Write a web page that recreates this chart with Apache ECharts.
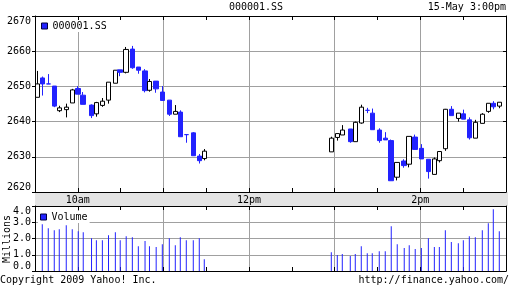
<!DOCTYPE html>
<html><head><meta charset="utf-8">
<script src="https://cdn.jsdelivr.net/npm/echarts@6/dist/echarts.min.js"></script>
<style>html,body{margin:0;padding:0;background:#fff}#c{width:512px;height:288px}</style>
</head><body><div id="c"></div>
<script>
// time of each bar, in minutes after midnight (570 = 9:30, 900 = 15:00)
const times = [571.6,575.1,579.3,583.5,587.0,591.9,596.1,600.3,603.8,609.6,613.0,617.2,621.5,626.3,629.7,633.9,638.2,642.4,647.1,650.2,654.9,659.2,664.1,668.3,671.8,676.0,680.9,685.1,688.6,
  777.6,781.8,785.3,790.9,794.4,798.6,802.8,806.3,811.2,815.4,819.6,823.8,828.7,832.2,836.4,840.7,845.6,849.8,853.3,857.5,861.7,866.6,870.1,874.3,878.5,883.4,887.6,891.1,895.3];
const opens = [2646.9,2652.4,2650.7,2650.1,2643.1,2643.4,2645.3,2649.4,2647.5,2644.7,2642.2,2644.6,2646.1,2650.9,2654.7,2654.0,2660.6,2655.5,2654.4,2648.9,2651.5,2648.4,2646.1,2642.1,2642.7,2636.3,2636.8,2630.2,2629.5,
  2631.4,2635.5,2636.2,2637.9,2634.3,2639.6,2643.2,2642.4,2637.6,2635.3,2634.6,2624.2,2628.8,2627.9,2635.6,2632.4,2629.3,2625.0,2628.9,2632.3,2643.5,2640.9,2642.2,2640.5,2635.3,2639.5,2642.9,2645.2,2644.4];
const closes = [2650.7,2650.7,2650.7,2644.4,2643.9,2644.1,2649.0,2647.8,2644.9,2641.7,2645.4,2645.8,2651.2,2654.6,2654.0,2660.5,2655.3,2654.6,2648.8,2651.4,2649.3,2646.0,2642.1,2642.9,2635.7,2636.3,2630.3,2628.9,2631.6,
  2635.3,2636.6,2637.6,2634.3,2639.8,2644.1,2643.2,2637.7,2634.6,2634.8,2623.2,2628.4,2627.5,2635.8,2632.1,2629.4,2625.8,2629.4,2631.5,2643.5,2641.7,2642.4,2640.7,2635.4,2639.8,2642.1,2645.2,2644.2,2645.5];
const lows = [2646.9,2647.4,2650.7,2644.1,2642.7,2641.2,2645.3,2647.8,2644.9,2641.0,2641.4,2644.2,2645.1,2650.9,2652.9,2653.7,2655.0,2653.6,2648.3,2648.5,2648.2,2646.0,2641.6,2642.1,2635.7,2634.0,2630.3,2628.1,2629.0,
  2631.4,2634.6,2636.2,2634.0,2634.3,2639.4,2642.4,2637.7,2634.0,2634.8,2623.2,2623.3,2626.9,2627.0,2632.1,2629.4,2623.8,2625.0,2628.4,2631.7,2641.7,2640.0,2640.7,2634.9,2635.3,2639.5,2642.5,2643.5,2643.8];
const highs = [2654.4,2652.8,2653.5,2650.1,2644.5,2645.1,2649.3,2650.1,2648.4,2644.9,2645.6,2646.7,2651.2,2654.6,2654.7,2661.2,2661.5,2655.5,2654.9,2652.1,2651.5,2650.1,2646.1,2644.7,2643.2,2636.3,2637.0,2630.8,2632.2,
  2635.7,2636.6,2639.0,2637.9,2640.0,2644.8,2643.9,2643.7,2638.1,2637.0,2634.9,2628.4,2629.3,2635.8,2636.3,2633.6,2629.3,2629.8,2631.5,2643.6,2644.4,2642.4,2643.4,2641.2,2640.5,2642.4,2645.2,2645.8,2645.5];
// volume in millions
const volumes = [null,2.88,2.63,2.51,2.57,2.82,2.57,2.45,2.39,2.02,1.90,1.90,2.20,2.39,1.90,2.14,2.08,1.53,1.84,1.53,1.47,1.65,2.02,1.59,2.08,1.90,1.90,2.02,0.73,
  1.16,0.98,1.04,0.92,1.04,1.53,1.10,1.10,1.22,1.22,2.76,1.65,1.41,1.59,1.35,1.41,2.02,1.47,1.47,2.51,1.78,1.71,1.90,2.14,2.08,2.51,2.94,3.80,2.45];
const timeTickLabels = {600:'10am', 720:'12pm', 840:'2pm'};
const priceRange = [2620, 2670];
const volumeRange = [0, 4];

const FONT = '"DejaVu Sans Mono", monospace';
const BLUE = '#2222ff';
const GRID = '#a0a0a0';
const txt = {fontFamily: FONT, fontSize: 10, color: '#000'};

const ohlc = times.map((t, i) => [t, opens[i], closes[i], lows[i], highs[i]]);
const vol = times.map((t, i) => [t, volumes[i]]);

function xAx(grid, pos, labels, split) {
  return {
    type: 'value', gridIndex: grid, position: pos, min: 570, max: 900, interval: 30,
    axisLine: {show: true, onZero: false, lineStyle: {color: '#000', width: 1}},
    axisTick: {show: true, inside: true, length: 4, lineStyle: {color: '#000'}},
    axisLabel: labels ? {show: true, margin: 3, formatter: v => timeTickLabels[v] || '', ...txt} : {show: false},
    splitLine: split ? {show: true, lineStyle: {color: ['rgba(0,0,0,0)', GRID], width: 1}} : {show: false}
  };
}

const chart = echarts.init(document.getElementById('c'), null, {renderer: 'canvas'});
chart.setOption({
  animation: false,
  backgroundColor: '#fff',
  title: [
    {text: '000001.SS', left: 'center', top: 2, padding: 0, textStyle: {...txt, fontWeight: 'normal'}},
    {text: '15-May 3:00pm', right: 6, top: 2, padding: 0, textStyle: {...txt, fontWeight: 'normal'}},
    {text: 'Copyright 2009 Yahoo! Inc.', left: 0, top: 275, padding: 0, textStyle: {...txt, fontWeight: 'normal'}},
    {text: 'http://finance.yahoo.com/', right: 3, top: 275, padding: 0, textStyle: {...txt, fontWeight: 'normal'}}
  ],
  graphic: [
    {type: 'rect', z: -10, shape: {x: 35, y: 192, width: 473, height: 14}, style: {fill: '#e4e4e4'}},
    {type: 'text', x: 7, y: 239, rotation: Math.PI / 2,
     style: {text: 'Millions', font: '10px "DejaVu Sans Mono", monospace', fill: '#000', align: 'center', verticalAlign: 'middle'}}
  ],
  legend: [
    {data: [{name: '000001.SS', icon: 'rect', itemStyle: {color: BLUE, borderColor: '#000040', borderWidth: 1}}],
     left: 39, top: 20, itemWidth: 6, itemHeight: 6, padding: [1, 2], backgroundColor: '#fff', selectedMode: false,
     textStyle: {...txt}},
    {data: [{name: 'Volume', icon: 'rect', itemStyle: {color: BLUE, borderColor: '#000040', borderWidth: 1}}],
     left: 38, top: 211, itemWidth: 6, itemHeight: 6, padding: [1, 2], backgroundColor: '#fff', selectedMode: false,
     textStyle: {...txt}}
  ],
  grid: [
    {left: 35, right: 6, top: 16, height: 176},
    {left: 35, right: 6, top: 206, height: 65}
  ],
  xAxis: [
    xAx(0, 'bottom', true, true),
    xAx(0, 'top', false, false),
    xAx(1, 'bottom', false, true),
    xAx(1, 'top', false, false)
  ],
  yAxis: [
    {type: 'value', gridIndex: 0, position: 'left', min: priceRange[0], max: priceRange[1], interval: 10,
     axisLine: {show: true, lineStyle: {color: '#000'}},
     axisTick: {show: true, inside: false, length: 3, lineStyle: {color: '#000'}},
     axisLabel: {margin: 4, ...txt, formatter: v => String(v), verticalAlignMinLabel: 'bottom', verticalAlignMaxLabel: 'top'},
     splitLine: {show: true, lineStyle: {color: GRID}}},
    {type: 'value', gridIndex: 0, position: 'right', min: priceRange[0], max: priceRange[1], interval: 10,
     axisLine: {show: true, lineStyle: {color: '#000'}},
     axisTick: {show: true, inside: true, length: 3, lineStyle: {color: '#000'}},
     axisLabel: {show: false}, splitLine: {show: false}},
    {type: 'value', gridIndex: 1, position: 'left', min: volumeRange[0], max: volumeRange[1], interval: 1,
     axisLine: {show: true, lineStyle: {color: '#000'}},
     axisTick: {show: true, inside: false, length: 3, lineStyle: {color: '#000'}},
     axisLabel: {margin: 4, ...txt, formatter: v => v.toFixed(1), verticalAlignMinLabel: 'bottom', verticalAlignMaxLabel: 'top'},
     splitLine: {show: true, lineStyle: {color: GRID}}},
    {type: 'value', gridIndex: 1, position: 'right', min: volumeRange[0], max: volumeRange[1], interval: 1,
     axisLine: {show: true, lineStyle: {color: '#000'}},
     axisTick: {show: false}, axisLabel: {show: false}, splitLine: {show: false}}
  ],
  series: [
    {type: 'candlestick', name: '000001.SS', xAxisIndex: 0, yAxisIndex: 0, barWidth: 5,
     dimensions: ['time', 'open', 'close', 'lowest', 'highest'],
     encode: {x: 'time', y: ['open', 'close', 'lowest', 'highest']},
     data: ohlc,
     itemStyle: {color: '#ffffff', color0: BLUE, borderColor: '#000', borderColor0: BLUE, borderColorDoji: BLUE, borderWidth: 1},
     emphasis: {disabled: true}, silent: true},
    {type: 'bar', name: 'Volume', xAxisIndex: 2, yAxisIndex: 2, barWidth: 1,
     data: vol, itemStyle: {color: BLUE}, emphasis: {disabled: true}, silent: true}
  ]
});
</script></body></html>
